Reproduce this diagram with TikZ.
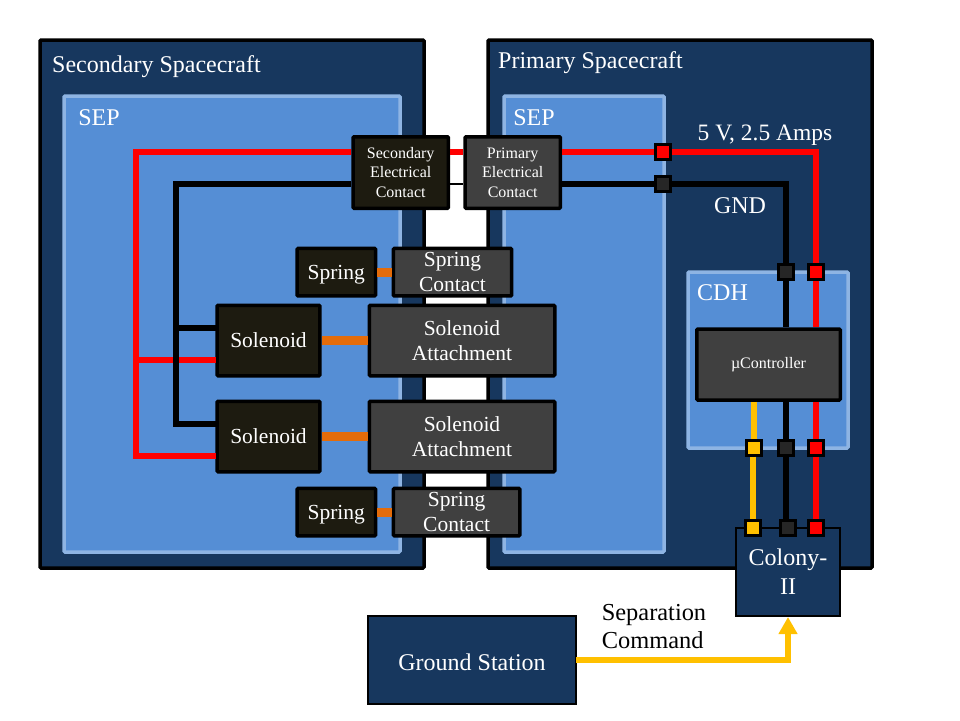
\documentclass[tikz,border=0pt]{standalone}
\usepackage{fontspec}
\setmainfont{Liberation Serif}
\usetikzlibrary{arrows.meta}
\definecolor{navy}{HTML}{17375E}
\definecolor{sepblue}{HTML}{558ED5}
\definecolor{sepedge}{HTML}{8EB4E3}
\definecolor{darkbox}{HTML}{1D1B10}
\definecolor{greybox}{HTML}{404040}
\definecolor{wireorange}{HTML}{E46C0A}
\definecolor{wireyellow}{HTML}{FFC000}
\definecolor{pindark}{HTML}{262626}
\tikzset{
  craft/.style={draw=black,line width=3.5pt,fill=navy,inner sep=0pt,rounded corners=1pt},
  sepzone/.style={draw=sepedge,line width=3.5pt,fill=sepblue,inner sep=0pt,rounded corners=1pt},
  part/.style={draw=black,line width=3.5pt,text=white,inner sep=0pt,align=center,rounded corners=1pt},
  pin/.style={draw=black,line width=2.8pt,minimum size=14.5pt,inner sep=0pt},
  title/.style={text=white,font=\fontsize{24}{28}\selectfont},
  small/.style={font=\fontsize{16}{19.5}\selectfont},
  medium/.style={font=\fontsize{21.5}{24.5}\selectfont},
  redwire/.style={draw=red,line width=6pt},
  blackwire/.style={draw=black,line width=6pt},
  yellowwire/.style={draw=wireyellow,line width=6pt},
  link/.style={draw=wireorange,line width=9pt}
}
\begin{document}
\begin{tikzpicture}[x=1pt,y=-1pt]
\useasboundingbox (0,0) rectangle (960,720);

\node[craft,minimum width=384pt,minimum height=528pt] (secondary) at (232,304) {};
\node[craft,minimum width=384pt,minimum height=528pt] (primary) at (680,304) {};
\node[sepzone,minimum width=336pt,minimum height=456pt] (sepA) at (232,324) {};
\node[sepzone,minimum width=160pt,minimum height=456pt] (sepB) at (584,324) {};
\node[sepzone,minimum width=160pt,minimum height=176pt] (cdh) at (768,360) {};

\node[title] (secondarytext) at (156.5,67) {Secondary Spacecraft};
\node[title] (primarytext) at (590.5,63) {Primary Spacecraft};
\node[title] (sepAtext) at (99,118) {SEP};
\node[title] (sepBtext) at (534,118) {SEP};
\node[title] (cdhtext) at (722.5,293) {CDH};
\node[title,font=\fontsize{23.5}{28}\selectfont] (powertext) at (765,135) {5 V, 2.5 Amps};
\node[title] (gndtext) at (740,206) {GND};

% contacts
\node[part,small,fill=darkbox,minimum width=95.2pt,minimum height=71.5pt] (seccontact) at (400.7,172.5) {Secondary\\Electrical\\Contact};
\node[part,small,fill=greybox,minimum width=95.2pt,minimum height=71.5pt] (primcontact) at (512.7,172.5) {Primary\\Electrical\\Contact};

\node[part,medium,fill=darkbox,text depth=0pt,minimum width=78.5pt,minimum height=47.5pt] (springA) at (336.3,272.2) {Spring};
\node[part,medium,fill=greybox,minimum width=118.2pt,minimum height=47.5pt] (springcontactA) at (452.5,272.2) {Spring\\Contact};
\node[part,medium,fill=darkbox,minimum width=102.9pt,minimum height=70.5pt] (solenoidA) at (268.5,340.5) {Solenoid};
\node[part,medium,fill=greybox,minimum width=185.5pt,minimum height=70.5pt] (attachA) at (462,340.5) {Solenoid\\Attachment};
\node[part,medium,fill=darkbox,minimum width=102.9pt,minimum height=70.5pt] (solenoidB) at (268.5,436.5) {Solenoid};
\node[part,medium,fill=greybox,minimum width=185.5pt,minimum height=70.5pt] (attachB) at (462,436.5) {Solenoid\\Attachment};
\node[part,medium,fill=darkbox,text depth=0pt,minimum width=78.5pt,minimum height=47.5pt] (springB) at (336.3,512.2) {Spring};
\node[part,medium,fill=greybox,minimum width=126.3pt,minimum height=47.5pt] (springcontactB) at (456.6,512.2) {Spring\\Contact};

\node[part,font=\fontsize{16}{19}\selectfont,fill=greybox,minimum width=143.5pt,minimum height=71pt] (controller) at (768.5,364.5) {µController};

\node[draw=black,line width=2pt,fill=navy,text=white,inner sep=0pt,align=center,font=\fontsize{24}{29}\selectfont,minimum width=104pt,minimum height=88pt] (colony) at (788,572) {Colony-\\II};
\node[draw=black,line width=2pt,fill=navy,text=white,inner sep=0pt,text height=20pt,text depth=0pt,font=\fontsize{24}{26}\selectfont,minimum width=208pt,minimum height=88pt] (ground) at (472,660) {Ground Station};

\node[align=left,font=\fontsize{24.4}{28}\selectfont] (commandtext) at (654,627) {Separation\\Command};

% pins
\node[pin,fill=red] (pinA) at (663,152) {};
\node[pin,fill=pindark] (pinB) at (663,184) {};
\node[pin,fill=pindark] (pinC) at (786,272) {};
\node[pin,fill=red] (pinD) at (816,272) {};
\node[pin,fill=wireyellow] (pinE) at (754,448) {};
\node[pin,fill=pindark] (pinF) at (786,448) {};
\node[pin,fill=red] (pinG) at (816,448) {};
\node[pin,fill=wireyellow] (pinH) at (753,528) {};
\node[pin,fill=pindark] (pinI) at (788,528) {};
\node[pin,fill=red] (pinJ) at (816,528) {};

\coordinate (redleft) at (136,152);
\coordinate (blackleft) at (176,184);
\coordinate (blacksolA) at (216,328);
\coordinate (redsolA) at (216,360);
\coordinate (blacksolB) at (216,424);
\coordinate (redsolB) at (216,456);
\coordinate (groundout) at (576,660);

% power and ground
\draw[redwire] (seccontact.west |- redleft) -- (redleft) -- (redleft |- redsolB) -- (redsolB);
\draw[redwire] (redleft |- redsolA) -- (redsolA);
\draw[blackwire] (seccontact.west |- blackleft) -- (blackleft) -- (blackleft |- blacksolB) -- (blacksolB);
\draw[blackwire] (blackleft |- blacksolA) -- (blacksolA);
\draw[redwire] (seccontact.east |- pinA) -- (primcontact.west |- pinA);
\draw[draw=black,line width=2pt] (seccontact.east |- pinB) -- (primcontact.west |- pinB);
\draw[redwire] (primcontact.east |- pinA) -- (pinA);
\draw[blackwire] (primcontact.east |- pinB) -- (pinB);
\draw[redwire] (pinA) -| (pinD);
\draw[blackwire] (pinB) -| (pinC);
\draw[redwire] (pinD) -- (controller.north -| pinD);
\draw[blackwire] (pinC) -- (controller.north -| pinC);
\draw[redwire] (controller.south -| pinG) -- (pinG);
\draw[blackwire] (controller.south -| pinF) -- (pinF);
\draw[yellowwire] (controller.south -| pinE) -- (pinE);
\draw[redwire] (pinG) -- (pinJ);
\draw[blackwire] (pinF) -- (pinF |- pinI.north);
\draw[yellowwire] (pinH |- pinE.south) -- (pinH);

% spring and solenoid links
\draw[link] (springA) -- (springcontactA);
\draw[link] (solenoidA) -- (attachA);
\draw[link] (solenoidB) -- (attachB);
\draw[link] (springB) -- (springcontactB);

\draw[yellowwire,-{Triangle[length=17pt,width=18pt]}] (groundout) -| (colony.south);

\end{tikzpicture}
\end{document}
